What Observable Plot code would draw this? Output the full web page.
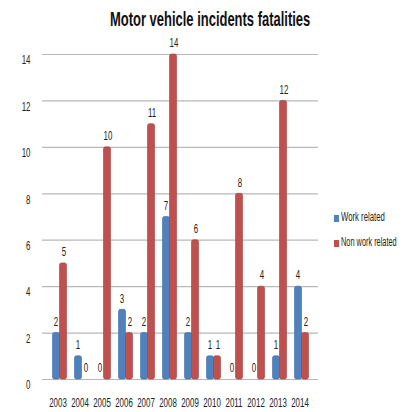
<!DOCTYPE html>
<html><head><meta charset="utf-8">
<script src="https://cdn.jsdelivr.net/npm/d3@7"></script>
<script src="https://cdn.jsdelivr.net/npm/@observablehq/plot@0.6"></script>
<style>
body{margin:0;background:#fff;}
#wrap{position:relative;width:410px;height:412px;overflow:hidden;font-family:"Liberation Sans",Arial,sans-serif;}
#title{position:absolute;left:210px;top:7px;white-space:nowrap;font-weight:bold;font-size:21px;color:#111;transform-origin:0 0;}
.sw{position:absolute;left:334px;width:5px;height:7px;}
.lt{position:absolute;left:341px;font-size:12.5px;color:#222;white-space:nowrap;transform-origin:0 0;}
#chart{position:absolute;left:0;top:0;}
</style></head>
<body><div id="wrap"><div id="chart"></div><div id="title"></div></div>
<script>
const title = "Motor vehicle incidents fatalities";
const years = ["2003","2004","2005","2006","2007","2008","2009","2010","2011","2012","2013","2014"];
const seriesNames = ["Work related","Non work related"];
const workRelated = [2,1,0,3,2,7,2,1,0,0,1,4];
const nonWorkRelated = [5,0,10,2,11,14,6,1,8,4,12,2];
const yTicks = [0,2,4,6,8,10,12,14];
const colors = ["#4F81BD","#C0504D"];
const strokes = ["#3B6CA8","#A03F3C"];

const work = years.map((y,i)=>({year:y, value:workRelated[i]}));
const non = years.map((y,i)=>({year:y, value:nonWorkRelated[i]}));
const font = '"Liberation Sans",Arial,sans-serif';

const plot = Plot.plot({
  width:410, height:412,
  marginTop:54, marginBottom:33, marginLeft:42, marginRight:92,
  style:{fontFamily:font, fontSize:"12px", color:"#222", background:"transparent"},
  x:{domain:years, paddingInner:0.7, paddingOuter:0.46, axis:null},
  y:{domain:[0,14], axis:null},
  marks:[
    Plot.ruleY(yTicks,{stroke:"#b8b8b8", strokeWidth:1.2}),
    Plot.text(yTicks,{y:d=>d, text:d=>String(d), frameAnchor:"left", textAnchor:"end", dx:-12, dy:6, fill:"#222", fontSize:12}),
    Plot.text(years,{x:d=>d, text:d=>d, frameAnchor:"bottom", dy:27, dx:-2, fill:"#222", fontSize:12}),
    Plot.barY(work,{x:"year", y:"value", dx:-3.5, fill:colors[0], stroke:strokes[0], strokeWidth:0.6, rx:2}),
    Plot.barY(non,{x:"year", y:"value", dx:3.5, fill:colors[1], stroke:strokes[1], strokeWidth:0.6, rx:2}),
    Plot.text(work,{x:"year", y:"value", dx:-4, dy:-11, text:d=>String(d.value), fill:"#222", fontSize:12}),
    Plot.text(non,{x:"year", y:"value", dx:4, dy:-11, text:d=>String(d.value), fill:"#222", fontSize:12})
  ]
});
plot.querySelectorAll("text").forEach(t=>{
  const X = +(t.getAttribute("x")||0);
  const T = t.getAttribute("transform")||"";
  t.setAttribute("transform", `${T} translate(${X},0) scale(0.66,1) translate(${-X},0)`);
});
document.getElementById("chart").appendChild(plot);

const tEl = document.getElementById("title");
tEl.textContent = title;
const ts = 200/tEl.offsetWidth;
tEl.style.transform = `translateX(-100px) scale(${ts},1)`;

const wrap = document.getElementById("wrap");
const legendWidths = [44, 56];
seriesNames.forEach((n,i)=>{
  const s = document.createElement("div");
  s.className = "sw";
  s.style.background = colors[i];
  s.style.top = (215 + i*25) + "px";
  wrap.appendChild(s);
  const t = document.createElement("div");
  t.className = "lt";
  t.textContent = n;
  t.style.top = (210 + i*25) + "px";
  wrap.appendChild(t);
  t.style.transform = `scale(${legendWidths[i]/t.offsetWidth},1)`;
});
</script></body></html>
